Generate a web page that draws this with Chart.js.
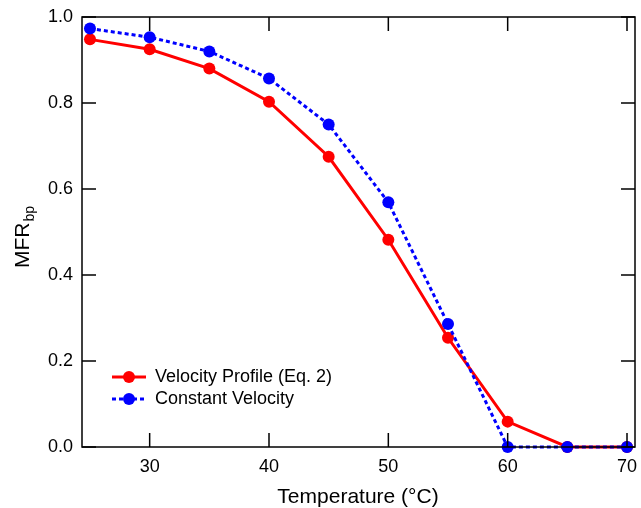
<!DOCTYPE html>
<html>
<head>
<meta charset="utf-8">
<script src="https://cdn.jsdelivr.net/npm/chart.js@4"></script>
<style>
  body { margin: 0; background: #fff; }
  canvas { display: block; }
</style>
</head>
<body>
<canvas id="myChart" width="641" height="508"></canvas>
<script>
// temperature (°C)
const temps = [25, 30, 35, 40, 45, 50, 55, 60, 65, 70];
const velocityProfile = [0.948, 0.925, 0.88, 0.803, 0.675, 0.482, 0.254, 0.059, 0, 0];
const constantVelocity = [0.973, 0.953, 0.92, 0.857, 0.75, 0.569, 0.286, 0, 0, 0];
const xTicks = [30, 40, 50, 60, 70];
const yTicks = [0, 0.2, 0.4, 0.6, 0.8, 1.0];

const font = 'Arial, "Liberation Sans", sans-serif';

// frame, inward ticks, titles and legend
const decor = {
  id: 'decor',
  afterDraw(chart) {
    const c = chart.ctx;
    const a = chart.chartArea;
    const xs = chart.scales.x, ys = chart.scales.y;
    c.save();
    c.strokeStyle = '#000';
    c.lineWidth = 1.5;
    c.strokeRect(a.left, a.top, a.right - a.left, a.bottom - a.top);
    const len = 14;
    c.beginPath();
    xTicks.forEach(v => {
      const x = xs.getPixelForValue(v);
      c.moveTo(x, a.bottom); c.lineTo(x, a.bottom - len);
      c.moveTo(x, a.top); c.lineTo(x, a.top + len);
    });
    yTicks.forEach(v => {
      const y = ys.getPixelForValue(v);
      c.moveTo(a.left, y); c.lineTo(a.left + len, y);
      c.moveTo(a.right, y); c.lineTo(a.right - len, y);
    });
    c.stroke();

    // axis titles
    c.fillStyle = '#000';
    c.font = '21px ' + font;
    c.textAlign = 'center';
    c.textBaseline = 'alphabetic';
    c.fillText('Temperature (°C)', 358, 503);

    c.save();
    c.translate(29, 268);
    c.rotate(-Math.PI / 2);
    c.textAlign = 'left';
    c.font = '21px ' + font;
    c.fillText('MFR', 0, 0);
    const w = c.measureText('MFR').width;
    c.font = '14px ' + font;
    c.fillText('bp', w + 1, 5);
    c.restore();

    // legend
    const rows = [
      { label: 'Velocity Profile (Eq. 2)', color: '#ff0000', dash: [], y: 377 },
      { label: 'Constant Velocity', color: '#0000ff', dash: [4, 3], y: 399 }
    ];
    rows.forEach(r => {
      c.strokeStyle = r.color;
      c.lineWidth = 3;
      c.setLineDash(r.dash);
      c.beginPath();
      c.moveTo(112, r.y); c.lineTo(146, r.y);
      c.stroke();
      c.setLineDash([]);
      c.fillStyle = r.color;
      c.beginPath();
      c.arc(129, r.y, 6, 0, Math.PI * 2);
      c.fill();
      c.fillStyle = '#000';
      c.font = '18px ' + font;
      c.textAlign = 'left';
      c.textBaseline = 'middle';
      c.fillText(r.label, 155, r.y);
    });
    c.restore();
  }
};

var ctx = document.getElementById('myChart').getContext('2d');

var myChart = new Chart(ctx, {
  type: 'line',
  data: {
    labels: temps,
    datasets: [{
      label: 'Velocity Profile (Eq. 2)',
      data: temps.map((t, i) => ({ x: t, y: velocityProfile[i] })),
      borderColor: '#ff0000',
      backgroundColor: '#ff0000',
      borderWidth: 3,
      pointRadius: 6,
      pointBorderWidth: 0,
      order: 2
    }, {
      label: 'Constant Velocity',
      data: temps.map((t, i) => ({ x: t, y: constantVelocity[i] })),
      borderColor: '#0000ff',
      backgroundColor: '#0000ff',
      borderWidth: 3,
      borderDash: [4, 3],
      pointRadius: 6,
      pointBorderWidth: 0,
      order: 1
    }]
  },
  options: {
    responsive: false,
    animation: false,
    clip: false,
    layout: { padding: { top: 17, right: 4, left: 0, bottom: 0 } },
    plugins: {
      legend: { display: false },
      tooltip: { enabled: false }
    },
    scales: {
      x: {
        type: 'linear',
        min: 24.33,
        max: 70.67,
        afterBuildTicks: s => { s.ticks = xTicks.map(v => ({ value: v })); },
        afterFit: s => { s.height = 61; s.paddingLeft = 0; s.paddingRight = 0; },
        grid: { display: false, drawTicks: false },
        border: { display: false },
        ticks: {
          color: '#000',
          font: { family: font, size: 18 },
          padding: 9,
          maxRotation: 0,
          callback: v => v
        }
      },
      y: {
        type: 'linear',
        min: 0,
        max: 1,
        afterBuildTicks: s => { s.ticks = yTicks.map(v => ({ value: v })); },
        afterFit: s => { s.width = 82; s.paddingTop = 0; s.paddingBottom = 0; },
        grid: { display: false, drawTicks: false },
        border: { display: false },
        ticks: {
          color: '#000',
          font: { family: font, size: 18 },
          padding: 9,
          callback: v => v.toFixed(1)
        }
      }
    }
  },
  plugins: [decor]
});
</script>
</body>
</html>
